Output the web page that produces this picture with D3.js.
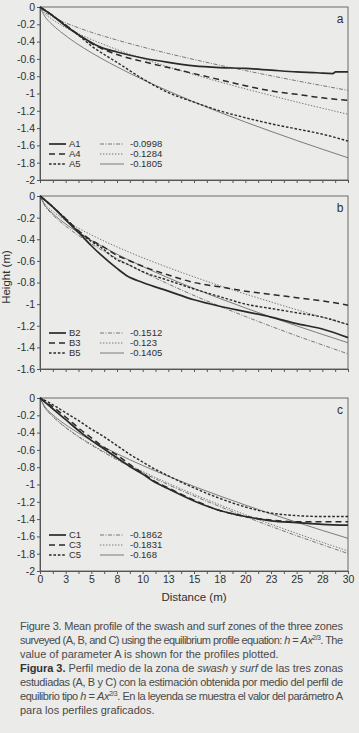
<!DOCTYPE html>
<html>
<head>
<meta charset="utf-8">
<script src="https://cdn.jsdelivr.net/npm/d3@7"></script>
<style>
  body { margin: 0; background: #ebebe9; }
  svg { display: block; }
</style>
</head>
<body>
<div id="chart"></div>
<script>
// measured profiles (distance m, height m)
const xA = [0, 1, 2.5, 4, 5, 6, 7.5, 10, 12.5, 15, 17.5, 20, 22.5, 25, 27.5, 30];
const xA1 = [0, 1, 2.5, 4, 5, 6, 7.5, 10, 12.5, 15, 17.5, 20, 22.5, 25, 27, 28.5, 28.8, 30];
const a1 = [0, -0.08, -0.22, -0.34, -0.41, -0.47, -0.52, -0.59, -0.64, -0.68, -0.70, -0.71, -0.73, -0.75, -0.76, -0.77, -0.75, -0.75];
const a4 = [0, -0.08, -0.21, -0.34, -0.42, -0.48, -0.55, -0.63, -0.70, -0.77, -0.84, -0.91, -0.97, -1.01, -1.05, -1.08];
const a5 = [0, -0.08, -0.21, -0.35, -0.45, -0.53, -0.64, -0.83, -0.99, -1.10, -1.20, -1.28, -1.35, -1.41, -1.47, -1.55];

const xB = [0, 1, 2.5, 4, 5, 6, 7.5, 8.5, 10, 12.5, 15, 17.5, 20, 22.5, 25, 27.5, 30];
const b2 = [0, -0.08, -0.22, -0.36, -0.46, -0.55, -0.67, -0.74, -0.80, -0.88, -0.96, -1.02, -1.07, -1.12, -1.18, -1.23, -1.31];
const b3 = [0, -0.08, -0.21, -0.34, -0.41, -0.46, -0.55, -0.59, -0.65, -0.73, -0.80, -0.84, -0.88, -0.91, -0.94, -0.97, -1.01];
const b5 = [0, -0.08, -0.21, -0.35, -0.42, -0.48, -0.59, -0.63, -0.70, -0.78, -0.86, -0.93, -1.00, -1.04, -1.08, -1.12, -1.19];

const xC = [0, 1, 2.5, 4, 5, 6, 7.5, 9, 10, 11, 12.5, 15, 17.5, 20, 22.5, 25, 27.5, 30];
const c1 = [0, -0.10, -0.25, -0.40, -0.49, -0.57, -0.69, -0.81, -0.88, -0.96, -1.05, -1.19, -1.30, -1.37, -1.42, -1.44, -1.46, -1.47];
const c3 = [0, -0.08, -0.22, -0.37, -0.46, -0.55, -0.66, -0.79, -0.87, -0.95, -1.04, -1.18, -1.30, -1.37, -1.41, -1.43, -1.43, -1.43];
const c5 = [0, -0.06, -0.17, -0.28, -0.36, -0.43, -0.55, -0.67, -0.74, -0.81, -0.90, -1.04, -1.16, -1.26, -1.33, -1.36, -1.37, -1.37];

// equilibrium profiles
const fitX = [0, 0.5, 1, 2, 3.5, 5, 7.5, 10, 12.5, 15, 17.5, 20, 22.5, 25, 27.5, 30];
const fA0998 = [0, -0.063, -0.100, -0.158, -0.230, -0.292, -0.382, -0.463, -0.538, -0.607, -0.673, -0.735, -0.795, -0.853, -0.909, -0.964];
const fA1284 = [0, -0.081, -0.128, -0.204, -0.296, -0.375, -0.492, -0.596, -0.692, -0.781, -0.866, -0.946, -1.023, -1.098, -1.170, -1.240];
const fA1805 = [0, -0.114, -0.181, -0.286, -0.416, -0.528, -0.692, -0.838, -0.972, -1.098, -1.217, -1.330, -1.438, -1.543, -1.644, -1.743];
const fB1512 = [0, -0.095, -0.151, -0.240, -0.349, -0.442, -0.579, -0.702, -0.814, -0.920, -1.019, -1.114, -1.205, -1.293, -1.377, -1.460];
const fB123 = [0, -0.077, -0.123, -0.195, -0.284, -0.360, -0.471, -0.571, -0.662, -0.748, -0.829, -0.906, -0.980, -1.052, -1.121, -1.188];
const fB1405 = [0, -0.089, -0.141, -0.223, -0.324, -0.411, -0.538, -0.652, -0.757, -0.855, -0.947, -1.035, -1.120, -1.201, -1.280, -1.357];
const fC1862 = [0, -0.117, -0.186, -0.295, -0.429, -0.544, -0.714, -0.864, -1.003, -1.132, -1.255, -1.372, -1.484, -1.592, -1.696, -1.798];
const fC1831 = [0, -0.115, -0.183, -0.291, -0.422, -0.535, -0.702, -0.850, -0.986, -1.114, -1.234, -1.349, -1.459, -1.565, -1.668, -1.768];
const fC168 = [0, -0.106, -0.168, -0.267, -0.387, -0.491, -0.644, -0.780, -0.905, -1.022, -1.132, -1.238, -1.339, -1.436, -1.531, -1.622];

const legendA = ['A1', 'A4', 'A5', '-0.0998', '-0.1284', '-0.1805'];
const legendB = ['B2', 'B3', 'B5', '-0.1512', '-0.123', '-0.1405'];
const legendC = ['C1', 'C3', 'C5', '-0.1862', '-0.1831', '-0.168'];

const yTicksA = [0, -0.2, -0.4, -0.6, -0.8, -1, -1.2, -1.4, -1.6, -1.8, -2];
const yTicksB = [0, -0.2, -0.4, -0.6, -0.8, -1, -1.2, -1.4, -1.6];
const xTicks = [0, 1.25, 2.5, 3.75, 5, 6.25, 7.5, 8.75, 10, 11.25, 12.5, 13.75, 15, 16.25, 17.5, 18.75, 20, 21.25, 22.5, 23.75, 25, 26.25, 27.5, 28.75, 30];
const xLabelTicks = [0, 2.5, 5, 7.5, 10, 12.5, 15, 17.5, 20, 22.5, 25, 27.5, 30];
const xTickLabels = ['0', '3', '5', '8', '10', '13', '15', '18', '20', '23', '25', '28', '30'];

const font = "'Liberation Sans Narrow', 'Arial Narrow', 'Liberation Sans', sans-serif";
const ink = '#2f2f2f';

// line styles: measured (3) then fitted (3)
const styles = [
  { w: 1.7, dash: null, c: '#2a2a2a' },
  { w: 1.5, dash: '6,4', c: '#2a2a2a' },
  { w: 1.4, dash: '2.6,1.8', c: '#2a2a2a' },
  { w: 0.9, dash: '4,1.5,1,1.5', c: '#6a6a6a' },
  { w: 0.9, dash: '1.4,1.6', c: '#6a6a6a' },
  { w: 0.8, dash: null, c: '#5e5e5e' }
];

const width = 359, height = 733;
const left = 40, right = 348;

const svg = d3.select('#chart')
  .append('svg')
    .attr('width', width)
    .attr('height', height)
    .style('font-family', font);

const x = d3.scaleLinear().domain([0, 30]).range([left, right]);

const panels = [
  { top: 7, bottom: 180, min: -2, ticks: yTicksA, letter: 'a', legend: legendA,
    series: [[xA1, a1], [xA, a4], [xA, a5], [fitX, fA0998], [fitX, fA1284], [fitX, fA1805]] },
  { top: 196, bottom: 369, min: -1.6, ticks: yTicksB, letter: 'b', legend: legendB,
    series: [[xB, b2], [xB, b3], [xB, b5], [fitX, fB1512], [fitX, fB123], [fitX, fB1405]] },
  { top: 398, bottom: 571, min: -2, ticks: yTicksA, letter: 'c', legend: legendC,
    series: [[xC, c1], [xC, c3], [xC, c5], [fitX, fC1862], [fitX, fC1831], [fitX, fC168]] }
];

panels.forEach( function( p, pi ) {
  const y = d3.scaleLinear().domain([p.min, 0]).range([p.bottom, p.top]);
  const g = svg.append('g');

  // frame
  g.append('rect')
    .attr('x', left).attr('y', p.top)
    .attr('width', right - left).attr('height', p.bottom - p.top)
    .attr('fill', 'none').attr('stroke', '#6b6b6b').attr('stroke-width', 1);

  // y axis
  const yAxis = g.append('g')
    .attr('transform', 'translate(' + left + ',0)')
    .call(d3.axisLeft(y).tickValues(p.ticks).tickSize(3).tickPadding(2)
      .tickFormat(function(d) { return String(d); }));
  yAxis.select('.domain').attr('stroke', '#555');
  yAxis.selectAll('line').attr('stroke', '#555');
  yAxis.selectAll('text').attr('fill', ink).style('font-size', '10.5px').style('font-family', font);

  // x axis ticks
  const xAxis = g.append('g')
    .attr('transform', 'translate(0,' + p.bottom + ')')
    .call(d3.axisBottom(x).tickValues(xTicks).tickSize(3).tickFormat(''));
  xAxis.select('.domain').attr('stroke', '#555');
  xAxis.selectAll('line').attr('stroke', '#555');

  if ( pi === 2 ) {
    const lab = g.append('g')
      .attr('transform', 'translate(0,' + p.bottom + ')')
      .call(d3.axisBottom(x).tickValues(xLabelTicks).tickSize(0).tickPadding(5)
        .tickFormat(function(d, i) { return xTickLabels[i]; }));
    lab.select('.domain').remove();
    lab.selectAll('text').attr('fill', ink).style('font-size', '10.5px').style('font-family', font);
  }

  // profiles
  const line = d3.line()
    .x(function(d) { return x(d[0]); })
    .y(function(d) { return y(d[1]); })
    .curve(d3.curveMonotoneX);

  const order = [5, 4, 3, 2, 1, 0];
  order.forEach( function( k ) {
    const s = p.series[k];
    const pts = s[0].map(function(v, i) { return [v, s[1][i]]; });
    g.append('path')
      .datum(pts)
      .attr('d', line)
      .attr('fill', 'none')
      .attr('stroke', styles[k].c)
      .attr('stroke-width', styles[k].w)
      .attr('stroke-dasharray', styles[k].dash);
  });

  // panel letter
  g.append('text')
    .attr('x', 340).attr('y', p.top + 16)
    .attr('text-anchor', 'middle')
    .attr('fill', ink)
    .style('font-size', '12px')
    .text(p.letter);

  // legend
  p.legend.forEach( function( name, k ) {
    const col = Math.floor(k / 3), row = k % 3;
    const ly = p.bottom - 36 + row * 10;
    const x0 = col === 0 ? 49 : 100, x1 = col === 0 ? 66 : 124;
    g.append('line')
      .attr('x1', x0).attr('x2', x1).attr('y1', ly).attr('y2', ly)
      .attr('stroke', styles[k].c)
      .attr('stroke-width', styles[k].w)
      .attr('stroke-dasharray', styles[k].dash);
    g.append('text')
      .attr('x', col === 0 ? 69 : 130).attr('y', ly + 3.3)
      .attr('fill', ink)
      .style('font-size', '9.5px')
      .text(name);
  });
});

// axis titles
svg.append('text')
  .attr('transform', 'translate(10,277) rotate(-90)')
  .attr('text-anchor', 'middle')
  .attr('fill', ink)
  .style('font-size', '11.5px')
  .text('Height (m)');

svg.append('text')
  .attr('x', 194).attr('y', 601)
  .attr('text-anchor', 'middle')
  .attr('fill', ink)
  .style('font-size', '11.5px')
  .text('Distance (m)');

// caption, justified with textLength
const cap = svg.append('g')
  .attr('fill', '#4a4a4a')
  .style('font-size', '11px');

const capLines = [
  [['Figure 3. Mean profile of the swash and surf zones of the three zones', '']],
  [['surveyed (A, B, and C) using the equilibrium profile equation: ', ''], ['h', 'i'], [' = ', ''], ['Ax', 'i'], ['2/3', 's'], ['. The', '']],
  [['value of parameter A is shown for the profiles plotted.', '']],
  [['Figura 3.', 'b'], [' Perfil medio de la zona de ', ''], ['swash', 'i'], [' y ', ''], ['surf', 'i'], [' de las tres zonas', '']],
  [['estudiadas (A, B y C) con la estimación obtenida por medio del perfil de', '']],
  [['equilibrio tipo ', ''], ['h', 'i'], [' = ', ''], ['Ax', 'i'], ['2/3', 's'], ['. En la leyenda se muestra el valor del parámetro A', '']],
  [['para los perfiles graficados.', '']]
];
const justify = [true, true, false, true, true, true, false];

capLines.forEach( function( parts, i ) {
  const t = cap.append('text')
    .attr('x', 20)
    .attr('y', 630 + i * 14);
  parts.forEach( function( part ) {
    const ts = t.append('tspan').text(part[0]);
    if ( part[1] === 'i' ) ts.style('font-style', 'italic');
    if ( part[1] === 'b' ) ts.style('font-weight', 'bold').attr('fill', '#333');
    if ( part[1] === 's' ) ts.style('font-size', '7px').attr('dy', -4);
    if ( part[1] === '' && ts.node().previousSibling && ts.node().previousSibling.textContent === '2/3' ) ts.attr('dy', 4);
  });
  if ( justify[i] ) t.attr('textLength', 323).attr('lengthAdjust', 'spacing');
});
</script>
</body>
</html>
